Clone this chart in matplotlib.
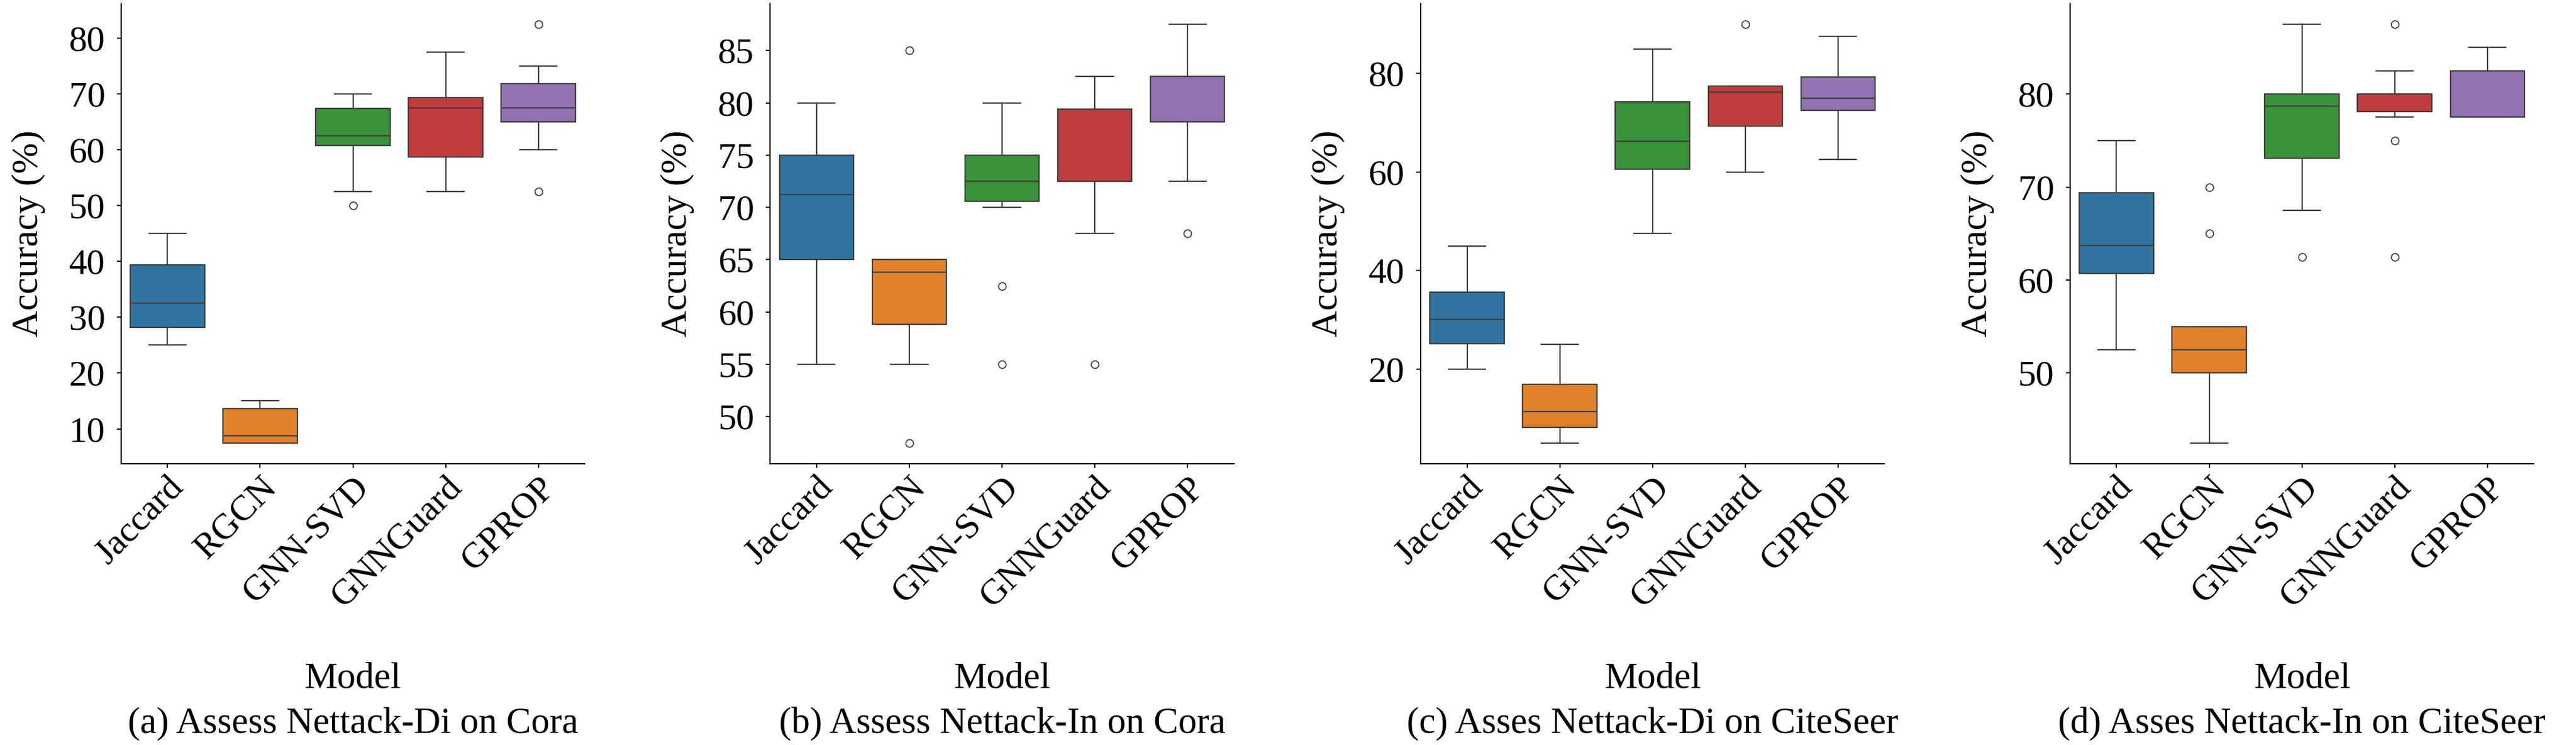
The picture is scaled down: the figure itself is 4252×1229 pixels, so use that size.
import matplotlib
matplotlib.use("Agg")
import matplotlib.pyplot as plt
from matplotlib.transforms import ScaledTranslation

plt.rcParams['font.family'] = ['Liberation Serif', 'DejaVu Serif']

models = ["Jaccard", "RGCN", "GNN-SVD", "GNNGuard", "GPROP"]
colors = ["#3274a1", "#e1812c", "#3a923a", "#c03d3e", "#9372b2"]
line_color = "#3f3f3f"

# (a) Nettack-Di on Cora
a_lo = [25.0, 7.5, 52.5, 52.5, 60.0]
a_q1 = [28.2, 7.5, 60.8, 58.7, 65.0]
a_med = [32.5, 8.8, 62.5, 67.5, 67.5]
a_q3 = [39.4, 13.6, 67.4, 69.4, 71.9]
a_hi = [45.0, 15.0, 70.0, 77.5, 75.0]
a_fliers = [[], [], [50.0], [], [82.5, 52.5]]
a_ticks = [10, 20, 30, 40, 50, 60, 70, 80]

# (b) Nettack-In on Cora
b_lo = [55.0, 55.0, 70.0, 67.5, 72.5]
b_q1 = [65.0, 58.8, 70.6, 72.5, 78.2]
b_med = [71.2, 63.8, 72.5, 72.5, 82.5]
b_q3 = [75.0, 65.0, 75.0, 79.4, 82.5]
b_hi = [80.0, 65.0, 80.0, 82.5, 87.5]
b_fliers = [[], [85.0, 47.5], [62.5, 55.0], [55.0], [67.5]]
b_ticks = [50, 55, 60, 65, 70, 75, 80, 85]

# (c) Nettack-Di on CiteSeer
c_lo = [20.0, 5.0, 47.5, 60.0, 62.5]
c_q1 = [25.1, 8.2, 60.6, 69.3, 72.5]
c_med = [30.1, 11.4, 66.3, 76.2, 75.0]
c_q3 = [35.6, 16.9, 74.3, 77.4, 79.3]
c_hi = [45.0, 25.0, 85.0, 77.5, 87.5]
c_fliers = [[], [], [], [90.0], []]
c_ticks = [20, 40, 60, 80]

# (d) Nettack-In on CiteSeer
d_lo = [52.5, 42.5, 67.5, 77.5, 77.5]
d_q1 = [60.7, 50.0, 73.1, 78.1, 77.5]
d_med = [63.7, 52.5, 78.7, 80.0, 82.5]
d_q3 = [69.4, 55.0, 80.0, 80.0, 82.5]
d_hi = [75.0, 55.0, 87.5, 82.5, 85.0]
d_fliers = [[], [70.0, 65.0], [62.5], [87.5, 75.0, 62.5], []]
d_ticks = [50, 60, 70, 80]

captions = ["(a) Assess Nettack-Di on Cora",
            "(b) Assess Nettack-In on Cora",
            "(c) Asses Nettack-Di on CiteSeer",
            "(d) Asses Nettack-In on CiteSeer"]

panels = [
    (a_lo, a_q1, a_med, a_q3, a_hi, a_fliers, a_ticks),
    (b_lo, b_q1, b_med, b_q3, b_hi, b_fliers, b_ticks),
    (c_lo, c_q1, c_med, c_q3, c_hi, c_fliers, c_ticks),
    (d_lo, d_q1, d_med, d_q3, d_hi, d_fliers, d_ticks),
]

lefts = [0.047, 0.299, 0.5515, 0.8036]
fig = plt.figure(figsize=(42.52, 12.29), dpi=100)

for i, (lo, q1, med, q3, hi, fl, ticks) in enumerate(panels):
    ax = fig.add_axes([lefts[i], 0.3775, 0.180, 0.618])
    stats = [dict(whislo=lo[k], q1=q1[k], med=med[k], q3=q3[k], whishi=hi[k],
                  fliers=fl[k], label=models[k]) for k in range(len(models))]
    bp = ax.bxp(stats, positions=range(len(models)), widths=0.8, capwidths=0.4,
                patch_artist=True, manage_ticks=False,
                boxprops=dict(edgecolor=line_color, linewidth=1.6),
                whiskerprops=dict(color=line_color, linewidth=1.6),
                capprops=dict(color=line_color, linewidth=1.6),
                medianprops=dict(color=line_color, linewidth=1.6),
                flierprops=dict(marker='o', markerfacecolor='none',
                                markeredgecolor=line_color, markersize=9,
                                markeredgewidth=1.3))
    for patch, c in zip(bp['boxes'], colors):
        patch.set_facecolor(c)

    ax.set_xlim(-0.5, len(models) - 0.5)
    ax.margins(y=0.05)
    ax.autoscale_view()
    ax.set_yticks(ticks)
    ax.set_xticks(range(len(models)))
    ax.set_xticklabels(models, rotation=45, ha='right', rotation_mode='anchor')
    offset = ScaledTranslation(0.25, -0.25, fig.dpi_scale_trans)
    for lab in ax.get_xticklabels():
        lab.set_transform(lab.get_transform() + offset)
    ax.tick_params(labelsize=43, width=1.5, length=5)
    ax.tick_params(axis='y', pad=14)
    ax.set_ylabel("Accuracy (%)", fontsize=44, labelpad=28)
    ax.set_xlabel("Model", fontsize=44)
    ax.xaxis.set_label_coords(0.5, -0.43)
    ax.text(0.5, -0.565, captions[i], transform=ax.transAxes, ha='center',
            va='center', fontsize=44)
    for side in ['top', 'right']:
        ax.spines[side].set_visible(False)
    for side in ['left', 'bottom']:
        ax.spines[side].set_linewidth(1.6)

fig.savefig("out.png", dpi=100)
